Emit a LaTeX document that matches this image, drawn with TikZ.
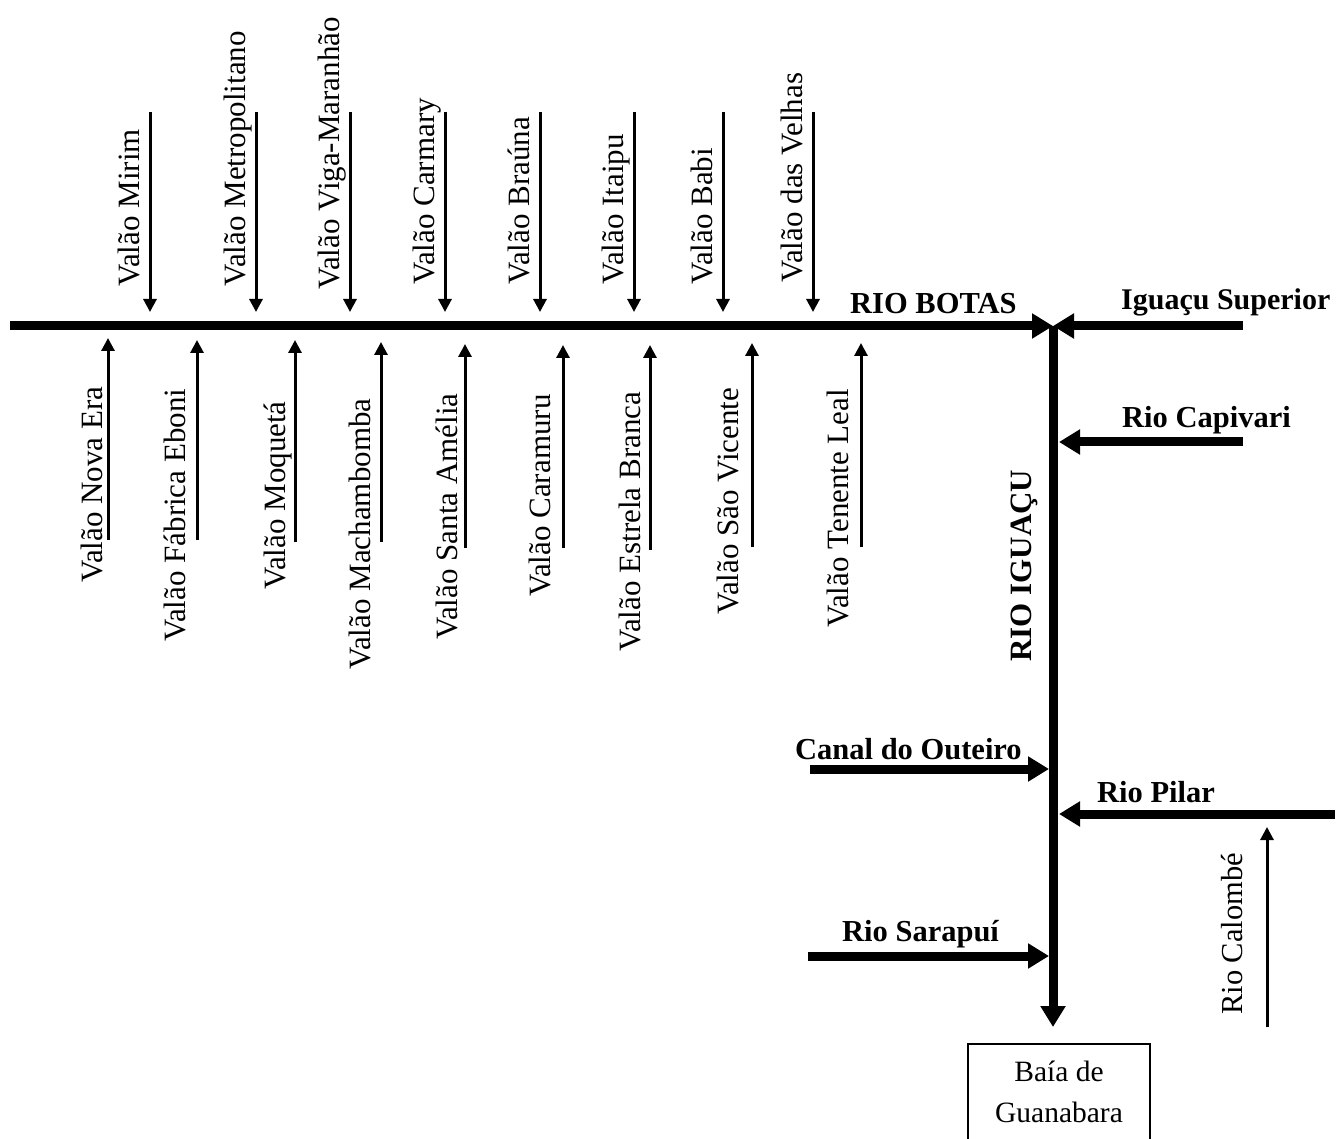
\documentclass[tikz,border=0pt]{standalone}
\usepackage{fontspec}
\setmainfont{Liberation Serif}
\usetikzlibrary{arrows.meta}
\tikzset{
  river/.style={line width=9pt, -{Triangle[length=21pt,width=24pt]}},
  trib/.style={line width=3pt, -{Triangle[length=13pt,width=13pt]}},
  vlabel/.style={rotate=90, anchor=base west, inner sep=0pt, font=\fontsize{31}{37}\selectfont},
  blabel/.style={anchor=base west, inner sep=0pt, font=\bfseries\fontsize{30.5}{36}\selectfont},
  vblabel/.style={blabel, rotate=90},
  baybox/.style={draw, line width=2pt, anchor=north, align=center, inner sep=0pt,
    minimum width=182pt, minimum height=125pt, text depth=30pt,
    font=\fontsize{29.5}{41}\selectfont},
}
\begin{document}
\begin{tikzpicture}[x=1pt,y=1pt]
  \clip (0,0) rectangle (1342,-1139);
  \fill[white] (0,0) rectangle (1342,-1139);

  % main rivers
  \coordinate (J) at (1053,-326);
  \coordinate (botasSrc) at (10,-326);
  \coordinate (supSrc) at (1243,-326);
  \node[baybox] (baia) at (1059,-1043) {Baía de\\Guanabara};
  \draw[river] (botasSrc) -- (J);
  \draw[river] (supSrc) -- (J);
  \draw[river, shorten >=16pt] (J) -- (J |- baia.north);

  \node[blabel] (botas) at (850,-314) {RIO BOTAS};
  \node[blabel, font=\bfseries\fontsize{30}{35}\selectfont] (sup) at (1121,-310) {Iguaçu Superior};
  \node[vblabel, font=\bfseries\fontsize{31}{36}\selectfont] (iguacu) at (1031,-662) {RIO IGUAÇU};

  % tributaries of the Iguaçu
  \coordinate (capSrc) at (1243,-442);  \coordinate (capEnd) at (1059,-442);
  \coordinate (outSrc) at (810,-769);   \coordinate (outEnd) at (1049,-769);
  \coordinate (pilSrc) at (1335,-814);  \coordinate (pilEnd) at (1059,-814);
  \coordinate (sarSrc) at (808,-956);   \coordinate (sarEnd) at (1049,-956);
  \draw[river] (capSrc) -- (capEnd);
  \draw[river] (outSrc) -- (outEnd);
  \draw[river] (pilSrc) -- (pilEnd);
  \draw[river] (sarSrc) -- (sarEnd);
  \node[blabel] (cap) at (1122,-428) {Rio Capivari};
  \node[blabel] (out) at (795,-759) {Canal do Outeiro};
  \node[blabel] (pil) at (1097,-802) {Rio Pilar};
  \node[blabel] (sar) at (842,-941) {Rio Sarapuí};

  % Rio Calombé, joining the Pilar
  \coordinate (calSrc) at (1267,-1027);
  \coordinate (calEnd) at (1267,-827);
  \draw[trib] (calSrc) -- (calEnd);
  \node[vlabel, font=\fontsize{30.5}{36}\selectfont] (cal) at (1242,-1015) {Rio Calombé};

  % valões from the north
  \foreach \x/\ys/\lab [count=\i] in {
      150/287/Valão Mirim,
      256/287/Valão Metropolitano,
      350/290/Valão Viga-Maranhão,
      445/285/Valão Carmary,
      540/285/Valão Braúna,
      634/285/Valão Itaipu,
      723/285/Valão Babi,
      813/283/Valão das Velhas} {
    \coordinate (ns\i) at (\x,-112);
    \coordinate (ne\i) at (\x,-312);
    \draw[trib] (ns\i) -- (ne\i);
    \node[vlabel] (nl\i) at (\x-11,-\ys) {\lab};
  }

  % valões from the south
  \foreach \x/\bot/\tip/\bx/\ys/\lab [count=\i] in {
      108/540/338/102/583/Valão Nova Era,
      197/540/340/185/642/Valão Fábrica Eboni,
      295/542/340/285/590/Valão Moquetá,
      381/542/342/370/670/Valão Machambomba,
      465/548/344/457/640/Valão Santa Amélia,
      563/548/345/550/597/Valão Caramuru,
      650/550/345/640/652/Valão Estrela Branca,
      752/547/343/738/615/Valão São Vicente,
      861/547/343/848/628/Valão Tenente Leal} {
    \coordinate (ss\i) at (\x,-\bot);
    \coordinate (se\i) at (\x,-\tip);
    \draw[trib] (ss\i) -- (se\i);
    \node[vlabel] (sl\i) at (\bx,-\ys) {\lab};
  }
\end{tikzpicture}
\end{document}
